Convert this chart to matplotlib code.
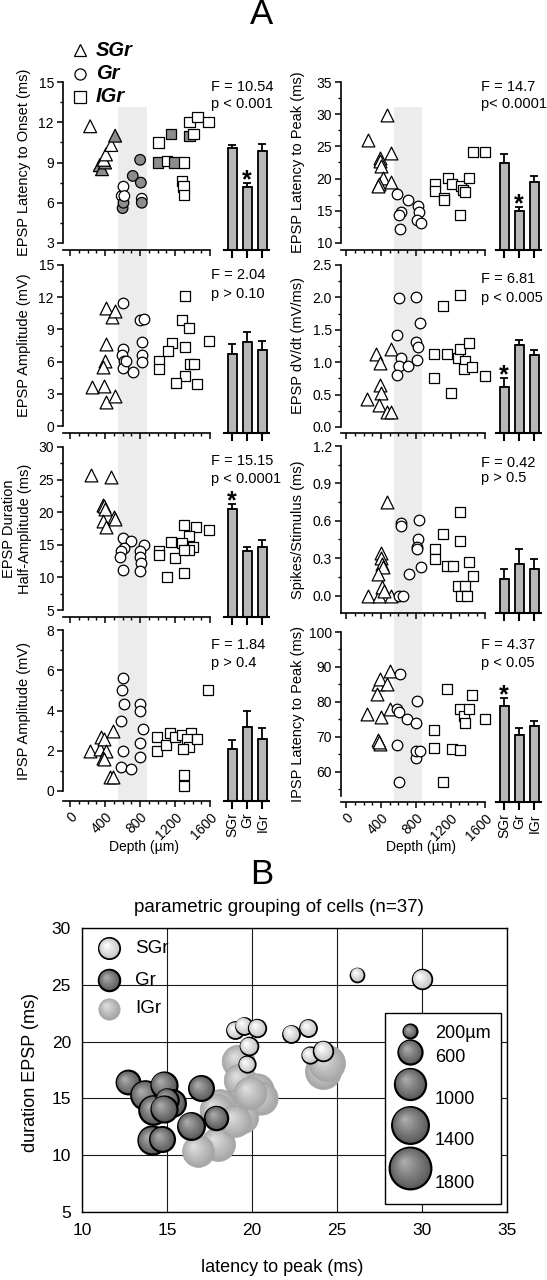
import numpy as np
import matplotlib.pyplot as plt
from matplotlib import transforms
from matplotlib.patches import Rectangle
from matplotlib.lines import Line2D
from matplotlib.colors import to_rgb
from matplotlib.ticker import MultipleLocator, FormatStrFormatter

plt.rcParams['font.family'] = ['Liberation Sans', 'DejaVu Sans']

GROUPS = ['SGr', 'Gr', 'IGr']

# ---- panel A data: (depth um, value) per group, bar means / sem ----
onset_sgr = [(230, 11.7), (340, 8.8), (365, 8.5), (400, 9.0), (385, 9.2), (410, 9.6), (470, 10.3), (515, 11.0)]
onset_gr = [(590, 6.5), (600, 5.6), (610, 6.0), (610, 7.2), (620, 6.5), (716, 8.0), (800, 9.2), (808, 7.5), (819, 6.3), (819, 6.0)]
onset_igr = [(1010, 10.5), (1150, 11.1), (1000, 9.0), (1105, 9.1), (1193, 9.0), (1303, 9.0), (1364, 11.0), (1410, 11.1),
             (1364, 12.0), (1455, 12.4), (1581, 12.0), (1276, 7.6), (1295, 7.2), (1303, 6.6)]
onset_filled = [[0, 1, 1, 1, 0, 0, 0, 1],
                [0, 1, 1, 0, 0, 1, 1, 1, 0, 1],
                [0, 1, 1, 0, 1, 0, 1, 0, 0, 0, 0, 0, 0, 0]]
onset_mean = [10.05, 7.15, 9.85]
onset_err = [0.25, 0.3, 0.55]

peak_sgr = [(246, 26.0), (468, 29.9), (384, 23.2), (391, 22.8), (403, 21.9), (418, 20.1), (372, 19.1), (361, 18.8), (518, 23.9), (518, 19.4)]
peak_gr = [(583, 17.6), (710, 16.6), (821, 15.8), (833, 14.8), (813, 13.6), (860, 13.1), (633, 14.8), (602, 14.4), (622, 12.1)]
peak_igr = [(1017, 19.1), (1017, 18.1), (1128, 17.0), (1120, 16.6), (1166, 20.1), (1216, 19.1), (1320, 18.9), (1343, 18.2),
            (1362, 17.9), (1416, 20.1), (1312, 14.3), (1454, 24.1), (1600, 24.1)]
peak_mean = [22.4, 15.0, 19.5]
peak_err = [1.4, 0.6, 0.9]

amp_sgr = [(411, 11.0), (476, 10.2), (514, 10.7), (411, 7.6), (400, 6.1), (373, 5.5), (248, 3.6), (389, 3.7), (411, 2.2), (514, 2.8)]
amp_gr = [(610, 11.5), (602, 7.2), (590, 6.6), (617, 6.1), (602, 5.4), (640, 6.1), (716, 5.0), (800, 9.9), (846, 10.0),
          (819, 7.8), (819, 6.6), (819, 6.0)]
amp_igr = [(1307, 12.1), (1276, 9.9), (1360, 9.1), (1162, 7.7), (1113, 7.0), (1021, 6.1), (1021, 5.3), (1307, 7.4),
           (1364, 5.8), (1410, 5.8), (1307, 4.7), (1208, 4.0), (1448, 3.9), (1589, 7.9)]
amp_mean = [6.7, 7.8, 7.1]
amp_err = [0.95, 0.95, 0.85]

dvdt_sgr = [(238, 0.43), (345, 1.12), (514, 1.20), (391, 0.99), (384, 0.65), (403, 0.53), (372, 0.34), (468, 0.23), (514, 0.23)]
dvdt_gr = [(602, 1.99), (802, 2.01), (852, 1.61), (583, 1.42), (802, 1.31), (821, 1.24), (633, 1.07), (602, 0.94),
           (706, 0.94), (579, 0.81), (813, 1.04)]
dvdt_igr = [(1312, 2.04), (1113, 1.86), (1005, 1.12), (1159, 1.12), (1281, 1.07), (1312, 1.21), (1416, 1.30), (1362, 1.02),
            (1351, 0.90), (1447, 0.92), (1600, 0.78), (1005, 0.75), (1209, 0.52)]
dvdt_mean = [0.62, 1.27, 1.11]
dvdt_err = [0.13, 0.08, 0.08]

dur_sgr = [(236, 25.7), (469, 25.4), (373, 21.1), (392, 20.9), (400, 20.5), (507, 19.2), (514, 18.9), (373, 18.7), (411, 17.7)]
dur_gr = [(610, 16.1), (697, 15.6), (846, 15.0), (617, 14.5), (583, 14.0), (571, 13.1), (800, 14.1), (800, 13.2),
          (811, 12.2), (602, 11.1), (800, 11.0)]
dur_igr = [(1010, 14.0), (1010, 13.5), (1150, 15.5), (1200, 13.0), (1295, 18.1), (1440, 17.7), (1581, 17.2), (1352, 16.3),
           (1276, 15.3), (1402, 14.7), (1352, 14.2), (1295, 14.2), (1105, 10.1), (1295, 10.7)]
dur_mean = [20.5, 14.0, 14.6]
dur_err = [0.8, 0.6, 1.1]

spk_sgr = [(246, 0.0), (372, 0.0), (514, 0.0), (468, 0.75), (403, 0.34), (403, 0.30), (411, 0.25), (422, 0.23),
           (365, 0.17), (411, 0.07), (430, 0.04)]
spk_gr = [(602, 0.0), (652, 0.0), (629, 0.585), (629, 0.56), (833, 0.61), (821, 0.45), (813, 0.39), (813, 0.37),
          (860, 0.23), (718, 0.17)]
spk_igr = [(1312, 0.67), (1113, 0.49), (1312, 0.44), (1017, 0.37), (1017, 0.29), (1159, 0.24), (1228, 0.24), (1416, 0.27),
           (1454, 0.16), (1281, 0.08), (1370, 0.08), (1320, 0.0), (1389, 0.0)]
spk_mean = [0.13, 0.25, 0.21]
spk_err = [0.08, 0.12, 0.08]

ia_sgr = [(229, 2.0), (343, 2.1), (354, 2.7), (392, 2.6), (411, 2.0), (381, 1.65), (389, 1.6), (495, 3.0), (457, 0.7), (495, 0.7)]
ia_gr = [(602, 5.6), (590, 5.0), (621, 4.3), (579, 3.5), (602, 2.0), (579, 1.2), (693, 1.1), (800, 4.3), (800, 4.0),
         (838, 3.1), (800, 2.4), (800, 1.7)]
ia_igr = [(991, 2.7), (991, 2.0), (1097, 2.3), (1143, 2.9), (1193, 2.7), (1276, 2.8), (1383, 2.9), (1333, 2.6),
          (1352, 2.2), (1288, 2.1), (1448, 2.6), (1295, 0.8), (1295, 0.25), (1570, 5.0)]
ia_mean = [2.1, 3.18, 2.58]
ia_err = [0.43, 0.8, 0.54]

il_sgr = [(238, 76.6), (403, 75.6), (365, 69.1), (391, 67.9), (365, 85.0), (391, 86.4), (468, 85.0), (353, 82.1),
          (507, 77.9), (499, 88.8), (380, 68.6)]
il_gr = [(622, 88.1), (583, 77.9), (610, 77.0), (698, 75.0), (802, 74.0), (813, 80.1), (583, 67.5), (802, 63.9),
         (802, 66.0), (852, 66.0), (610, 56.9)]
il_igr = [(1005, 71.9), (1005, 66.8), (1159, 83.8), (1216, 66.5), (1305, 66.3), (1312, 78.0), (1351, 75.9), (1362, 74.0),
          (1408, 78.0), (1447, 82.0), (1600, 75.0), (1109, 56.9)]
il_mean = [78.8, 70.5, 73.0]
il_err = [2.3, 2.1, 1.5]

# ---- panel B data: latency to peak, EPSP duration, depth (bubble size) ----
b_sgr_lat = [26.2, 30.0, 19.0, 19.5, 20.3, 22.3, 23.3, 19.8, 19.7, 23.4, 24.2]
b_sgr_dur = [25.9, 25.5, 21.0, 21.4, 21.2, 20.7, 21.2, 19.6, 18.0, 18.8, 19.2]
b_sgr_depth = [200, 400, 300, 300, 320, 300, 300, 330, 280, 280, 400]
b_gr_lat = [12.7, 13.7, 14.8, 14.2, 15.3, 15.0, 14.8, 17.0, 16.4, 17.9, 14.1, 14.7]
b_gr_dur = [16.4, 15.3, 16.2, 14.0, 14.6, 14.9, 14.1, 15.9, 12.6, 13.3, 11.3, 11.4]
b_gr_depth = [580, 840, 700, 840, 740, 520, 700, 640, 740, 560, 820, 640]
b_igr_lat = [19.2, 19.3, 20.3, 20.5, 19.4, 18.8, 18.1, 17.9, 18.0, 16.8, 24.2, 24.4, 19.9, 19.0]
b_igr_dur = [18.3, 16.6, 15.7, 15.0, 13.4, 14.3, 14.4, 14.0, 11.0, 10.4, 17.4, 18.1, 15.5, 13.0]
b_igr_depth = [1100, 1100, 1150, 1150, 1100, 1000, 1050, 1100, 1200, 1050, 1350, 1350, 1100, 1050]
size_legend = [200, 600, 1000, 1400, 1800]

W, H = 547, 1280
PT = 0.72  # points per pixel at dpi 100
fig = plt.figure(figsize=(W / 100, H / 100), dpi=100)


def box(l, t, r, b):
    return [l / W, 1 - b / H, (r - l) / W, (b - t) / H]


COLS = {'L': dict(l=63, r=212, xlim=(-80, 1620), bl=224, br=269, lab=24, txt=211),
        'R': dict(l=341, r=487, xlim=(-60, 1620), bl=496, br=541, lab=298, txt=481)}
MARKERS = ['^', 'o', 's']
MSIZE = [85, 58, 55]
FILL = '#8c8c8c'


def panel(col, top, bot, ylim, step, gap, ylabel, ftxt, ptxt, fy, groups, mean, err,
          star=None, fills=None, fmt='%d', last=False):
    c = COLS[col]
    ax = fig.add_axes(box(c['l'], top, c['r'], bot))
    ax.patch.set_visible(False)
    for g, pts in enumerate(groups):
        d = np.array(pts)
        fc = 'white' if fills is None else [FILL if f else 'white' for f in fills[g]]
        ax.scatter(d[:, 0], d[:, 1], s=MSIZE[g], marker=MARKERS[g], facecolors=fc,
                   edgecolors='black', linewidths=0.9, zorder=3, clip_on=False)
    ax.set_xlim(c['xlim'])
    ax.set_ylim(ylim)
    for s in ('top', 'right'):
        ax.spines[s].set_visible(False)
    ax.spines['bottom'].set_position(('outward', gap * PT))
    ax.spines['bottom'].set_bounds(c['xlim'][0], 1600)
    for s in ('left', 'bottom'):
        ax.spines[s].set_linewidth(1.2)
    ax.xaxis.set_major_locator(MultipleLocator(400))
    ax.xaxis.set_minor_locator(MultipleLocator(100))
    ax.yaxis.set_major_locator(MultipleLocator(step))
    ax.yaxis.set_minor_locator(MultipleLocator(step / 2))
    ax.yaxis.set_major_formatter(FormatStrFormatter(fmt))
    ax.tick_params(which='major', length=4.5, width=1.1, labelsize=10, pad=2)
    ax.tick_params(which='minor', length=2.5, width=1.0)
    if last:
        plt.setp(ax.get_xticklabels(), rotation=45, ha='right', va='top', rotation_mode='anchor')
        fig.text((c['l'] + c['r']) / 2 / W + 0.012, 1 - 847 / H, 'Depth (\u00b5m)', ha='center', va='center', fontsize=10)
    else:
        ax.tick_params(axis='x', labelbottom=False)
    fig.text(c['lab'] / W if '\n' not in ylabel else 17 / W, 1 - (top + bot) / 2 / H, ylabel,
             rotation=90, ha='center', va='center', fontsize=10.5, linespacing=1.25)
    fig.text(c['txt'] / W, 1 - fy[0] / H, ftxt, va='center', fontsize=10.5)
    fig.text(c['txt'] / W, 1 - fy[1] / H, ptxt, va='center', fontsize=10.5)

    # grey depth band behind the whole column
    tr = transforms.blended_transform_factory(ax.transData, fig.transFigure)
    if top < 100:
        fig.add_artist(Rectangle((550, 1 - 801 / H), 325, (801 - 107) / H, transform=tr,
                                 facecolor='#ececec', edgecolor='none', zorder=-1))

    # bar summary
    lo = ylim[0] - gap * (ylim[1] - ylim[0]) / (bot - top)
    bx = fig.add_axes(box(c['bl'], top, c['br'], bot + gap))
    bx.patch.set_visible(False)
    bx.set_xlim(-0.55, 2.45)
    bx.set_ylim(lo, ylim[1])
    x = np.arange(3)
    bx.bar(x, np.array(mean) - lo, bottom=lo, width=0.6, color='#b8b8b8', edgecolor='black', linewidth=1.3, zorder=2)
    bx.errorbar(x, mean, yerr=[np.zeros(3), err], fmt='none', ecolor='black', elinewidth=1.3,
                capsize=3, capthick=1.3, zorder=1)
    for s in ('top', 'right', 'left'):
        bx.spines[s].set_visible(False)
    bx.spines['bottom'].set_linewidth(1.5)
    bx.set_yticks([])
    bx.set_xticks(x)
    bx.tick_params(axis='x', length=6, width=1.5, labelsize=10, pad=2)
    if last:
        bx.set_xticklabels(GROUPS, rotation=90)
    else:
        bx.tick_params(axis='x', labelbottom=False)
    if star is not None:
        bx.annotate('*', (star, mean[star] + err[star]), xytext=(0, -3), textcoords='offset points',
                    ha='center', va='baseline', fontsize=18, fontweight='bold')
    return ax


panel('L', 82, 243, (3, 15), 3, 7, 'EPSP Latency to Onset (ms)', 'F = 10.54', 'p < 0.001', (87, 104),
      [onset_sgr, onset_gr, onset_igr], onset_mean, onset_err, star=1, fills=onset_filled)
panel('L', 265, 426, (0, 15), 3, 7, 'EPSP Amplitude (mV)', 'F = 2.04', 'p > 0.10', (275, 294),
      [amp_sgr, amp_gr, amp_igr], amp_mean, amp_err)
panel('L', 447, 610, (5, 30), 5, 7, 'EPSP Duration\nHalf-Amplitude (ms)', 'F = 15.15', 'p < 0.0001', (461, 479),
      [dur_sgr, dur_gr, dur_igr], dur_mean, dur_err, star=0)
panel('L', 630, 791, (0, 8), 2, 10, 'IPSP Amplitude (mV)', 'F = 1.84', 'p > 0.4', (645, 663),
      [ia_sgr, ia_gr, ia_igr], ia_mean, ia_err, last=True)
panel('R', 82, 243, (10, 35), 5, 7, 'EPSP Latency to Peak (ms)', 'F = 14.7', 'p< 0.0001', (87, 104),
      [peak_sgr, peak_gr, peak_igr], peak_mean, peak_err, star=1)
panel('R', 265, 427, (0, 2.5), 0.5, 6, 'EPSP dV/dt (mV/ms)', 'F = 6.81', 'p < 0.005', (279, 298),
      [dvdt_sgr, dvdt_gr, dvdt_igr], dvdt_mean, dvdt_err, star=0, fmt='%.1f')
panel('R', 446, 613, (-0.14, 1.2), 0.3, 0, 'Spikes/Stimulus (ms)', 'F = 0.42', 'p > 0.5', (463, 478),
      [spk_sgr, spk_gr, spk_igr], spk_mean, spk_err, fmt='%.1f')
panel('R', 632, 796, (53, 100), 10, 6, 'IPSP Latency to Peak (ms)', 'F = 4.37', 'p < 0.05', (645, 663),
      [il_sgr, il_gr, il_igr], il_mean, il_err, star=0, last=True)

# marker legend of panel A
for i, (mk, name) in enumerate(zip(MARKERS, GROUPS)):
    y = 1 - (50 + 23.5 * i) / H
    fig.add_artist(Line2D([80 / W], [y], marker=mk, ms=9 if mk == '^' else 8, mfc='white',
                          mec='black', mew=0.9, ls='none'))
    fig.text(96 / W, y, name, va='center', fontsize=14.5, fontweight='bold', style='italic')

fig.text(262 / W, 1 - 15 / H, 'A', ha='center', va='center', fontsize=25)
fig.text(262 / W, 1 - 875 / H, 'B', ha='center', va='center', fontsize=25)

# ---- panel B ----
axb = fig.add_axes(box(82, 928, 507, 1212))
axb.set_xlim(10, 35)
axb.set_ylim(5, 30)
axb.set_xticks(range(10, 36, 5))
axb.set_yticks(range(5, 31, 5))
axb.grid(True, color='#1a1a1a', lw=0.8)
axb.set_axisbelow(True)
axb.tick_params(length=0, labelsize=12.5, pad=8)
for s in axb.spines.values():
    s.set_linewidth(1.0)

STYLE = {'SGr': ('#c8c8c8', '#ffffff', 'black', 1.3),
         'Gr': ('#5e5e5e', '#ababab', 'black', 1.6),
         'IGr': ('#a8a8a8', '#dedede', '#a4a4a4', 0.5)}


def sphere(x, y, depth, grp, base=None, z=2):
    rim, core, edge, lw = STYLE[grp]
    rim, core = np.array(to_rgb(rim)), np.array(to_rgb(core))
    base = axb.transData if base is None else base
    s = 0.5 * depth
    r = np.sqrt(s) / 2
    n = 9
    for k in range(n):
        f = 1 - k / n
        col = rim + (core - rim) * (k / (n - 1))
        sh = (1 - f) * r * 0.3
        tr = transforms.offset_copy(base, fig=fig, x=-sh, y=sh, units='points')
        axb.scatter([x], [y], s=s * f ** 2, color=col, edgecolors=edge if k == 0 else 'none',
                    linewidths=lw if k == 0 else 0, transform=tr, zorder=z, clip_on=False)


for lat, dur, dep in zip(b_igr_lat, b_igr_dur, b_igr_depth):
    sphere(lat, dur, dep, 'IGr')
for lat, dur, dep in zip(b_gr_lat, b_gr_dur, b_gr_depth):
    sphere(lat, dur, dep, 'Gr')
for lat, dur, dep in zip(b_sgr_lat, b_sgr_dur, b_sgr_depth):
    sphere(lat, dur, dep, 'SGr')

for i, name in enumerate(GROUPS):
    yy = [0.928, 0.816, 0.716][i]
    sphere(0.064, yy, 470, name, base=axb.transAxes)
    axb.text(0.125, yy, name, transform=axb.transAxes, va='center', fontsize=13.5)

axb.add_patch(Rectangle((0.712, 0.027), 0.274, 0.673, transform=axb.transAxes,
                        facecolor='white', edgecolor='black', lw=1.0, zorder=5))
leg_y = [0.636, 0.564, 0.452, 0.308, 0.156]
lab_y = [0.628, 0.544, 0.396, 0.252, 0.100]
for dep, yb, yt in zip(size_legend, leg_y, lab_y):
    sphere(0.772, yb, dep, 'Gr', base=axb.transAxes, z=6)
    axb.text(0.83, yt, f'{dep}\u00b5m' if dep == 200 else str(dep), transform=axb.transAxes,
             va='center', fontsize=13, zorder=7)

fig.text(279 / W, 1 - 907 / H, 'parametric grouping of cells (n=37)', ha='center', va='center', fontsize=13.5)
fig.text(282 / W, 1 - 1267 / H, 'latency to peak (ms)', ha='center', va='center', fontsize=13)
fig.text(31 / W, 1 - 1073 / H, 'duration EPSP (ms)', ha='center', va='center', rotation=90, fontsize=13)

fig.savefig('out.png', dpi=100)
